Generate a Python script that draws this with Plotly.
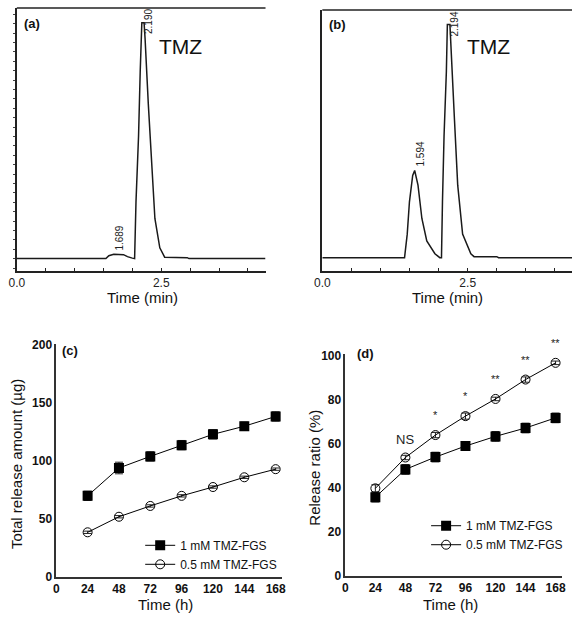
import numpy as np
import plotly.graph_objects as go

# ---------------- data ----------------
# chromatogram (a)
a_time = [0.0, 1.542, 1.593, 1.678, 1.847, 1.915, 2.0, 2.039, 2.063, 2.107, 2.136, 2.164, 2.203, 2.22, 2.276,
          2.334, 2.39, 2.475, 2.559, 2.95, 2.98, 4.305]
a_signal = [0, 0, 3, 4.5, 4, 2, 0.5, 0, 58, 125, 191, 241, 241, 225, 158, 91, 41, 11, 1.5, 1, 0, 0]
a_peak_labels = ["1.689", "2.190"]

# chromatogram (b)
b_time = [0.0, 1.414, 1.46, 1.498, 1.554, 1.588, 1.645, 1.712, 1.796, 1.936, 2.02, 2.049, 2.066, 2.093, 2.133,
          2.15, 2.194, 2.217, 2.273, 2.328, 2.412, 2.554, 2.609, 3.0, 3.03, 4.293]
b_signal = [0, 0, 24, 57, 84, 89, 74, 40, 17, 4, 0, 0, 57, 124, 190, 238, 238, 207, 140, 74, 24, 4, 1, 1, 0, 0]
b_peak_labels = ["1.594", "2.194"]

# release curves
hours = [24, 48, 72, 96, 120, 144, 168]
hour_ticks = [0, 24, 48, 72, 96, 120, 144, 168]

c_1mM = [70, 94, 104, 113.7, 123, 130, 138.4]
c_1mM_err = [4, 5, 4, 4, 4, 3.5, 4]
c_05mM = [38.6, 52, 61.3, 70, 77.6, 86, 93]
c_05mM_err = [1, 1, 1, 1, 1, 1, 1]
c_yticks = [0, 50, 100, 150, 200]

d_1mM = [35.6, 48.2, 53.8, 58.8, 63.2, 67, 71.6]
d_1mM_err = [2.2, 2.2, 2.2, 2, 2.2, 2.2, 2.2]
d_05mM = [39.6, 53.6, 63.8, 72.4, 80.2, 89, 96.6]
d_05mM_err = [1.6, 1, 1.2, 1.4, 0.8, 1.2, 0.8]
d_yticks = [0, 20, 40, 60, 80, 100]
d_signif = ["", "NS", "*", "*", "**", "**", "**"]

FONT = "Arial, Liberation Sans, sans-serif"
W, H = 576, 622


def px_x(p):
    return p / W


def px_y(p):
    return 1 - p / H


fig = go.Figure()

# chromatograms
fig.add_trace(go.Scatter(x=a_time, y=a_signal, mode="lines", line=dict(color="#1a1a1a", width=1.5),
                         xaxis="x", yaxis="y", showlegend=False, hoverinfo="skip"))
fig.add_trace(go.Scatter(x=b_time, y=b_signal, mode="lines", line=dict(color="#1a1a1a", width=1.5),
                         xaxis="x2", yaxis="y2", showlegend=False, hoverinfo="skip"))

# release (c)
fig.add_trace(go.Scatter(x=hours, y=c_1mM, mode="lines+markers", name="1 mM TMZ-FGS",
                         line=dict(color="black", width=1),
                         marker=dict(symbol="square", size=10, color="black"),
                         error_y=dict(type="data", array=c_1mM_err, color="#222", thickness=1, width=4),
                         xaxis="x3", yaxis="y3", legend="legend"))
fig.add_trace(go.Scatter(x=hours, y=c_05mM, mode="lines+markers", name="0.5 mM TMZ-FGS",
                         line=dict(color="black", width=1),
                         marker=dict(symbol="circle-open", size=9, color="black", line=dict(width=1)),
                         error_y=dict(type="data", array=c_05mM_err, color="#222", thickness=1, width=4),
                         xaxis="x3", yaxis="y3", legend="legend"))
# release (d)
fig.add_trace(go.Scatter(x=hours, y=d_1mM, mode="lines+markers", name="1 mM TMZ-FGS",
                         line=dict(color="black", width=1),
                         marker=dict(symbol="square", size=10, color="black"),
                         error_y=dict(type="data", array=d_1mM_err, color="#222", thickness=1, width=4),
                         xaxis="x4", yaxis="y4", legend="legend2"))
fig.add_trace(go.Scatter(x=hours, y=d_05mM, mode="lines+markers", name="0.5 mM TMZ-FGS",
                         line=dict(color="black", width=1),
                         marker=dict(symbol="circle-open", size=9, color="black", line=dict(width=1)),
                         error_y=dict(type="data", array=d_05mM_err, color="#222", thickness=1, width=4),
                         xaxis="x4", yaxis="y4", legend="legend2"))

annotations = []
# peak labels
for labels, t, s, xr, yr in [(a_peak_labels, a_time, a_signal, "x", "y"),
                             (b_peak_labels, b_time, b_signal, "x2", "y2")]:
    t_arr = np.array(t)
    s_arr = np.array(s)
    for lab in labels:
        lt = float(lab)
        top = s_arr[np.abs(t_arr - lt) < 0.12].max()
        small = top < 150
        annotations.append(dict(x=lt, y=top, xref=xr, yref=yr, text=lab, showarrow=False,
                                textangle=-90, xanchor="center", yanchor="middle",
                                xshift=5, yshift=16 if small else 1,
                                font=dict(family=FONT, size=10, color="#222")))

# significance marks
for h, v, sig in zip(hours, d_05mM, d_signif):
    if sig:
        annotations.append(dict(x=h, y=v, xref="x4", yref="y4", text=sig, showarrow=False,
                                xanchor="center", yanchor="middle",
                                yshift=18 if sig == "NS" else 20,
                                font=dict(family=FONT, size=13 if sig == "NS" else 11, color="#222")))


# panel labels & texts
def txt(x, y, s, size, bold=False, angle=0):
    annotations.append(dict(x=px_x(x), y=px_y(y), xref="paper", yref="paper",
                            text=f"<b>{s}</b>" if bold else s, showarrow=False,
                            xanchor="center", yanchor="middle", textangle=angle,
                            font=dict(family=FONT, size=size, color="#111")))


txt(24.5, 17.5, "(a)", 13, True)
txt(337, 19, "(b)", 13, True)
txt(63, 352, "(c)", 13, True)
txt(365.5, 355, "(d)", 13, True)
txt(176.5, 41, "TMZ", 21)
txt(491, 41, "TMZ", 21)
txt(137, 298, "Time (min)", 15)
txt(449, 298, "Time (min)", 15)
txt(161, 611, "Time (h)", 15)
txt(452, 611, "Time (h)", 15)
txt(8, 468, "Total release amount (µg)", 15, angle=-90)
txt(313, 471, "Release ratio (%)", 15, angle=-90)

shapes = [
    dict(type="line", xref="paper", yref="paper", x0=px_x(9), x1=px_x(263), y0=px_y(2), y1=px_y(2),
         line=dict(color="#222", width=1.5)),
    dict(type="line", xref="paper", yref="paper", x0=px_x(321), x1=1, y0=px_y(4), y1=px_y(4),
         line=dict(color="#222", width=1.5)),
]

chrom_x = dict(showline=True, linecolor="#222", linewidth=1.5, showgrid=False, zeroline=False,
               ticks="inside", ticklen=4, tickcolor="#222", tickvals=[0, 2.5], ticktext=["0.0", "2.5"],
               minor=dict(ticks="inside", ticklen=4, dtick=0.5, tick0=0, tickcolor="#222"),
               tickfont=dict(family=FONT, size=12, color="#222"))
rel_axis = dict(showline=True, linecolor="#333", linewidth=1.5, showgrid=False, zeroline=False,
                ticks="", tickfont=dict(family=FONT, size=12, color="#111", weight="bold"))

fig.update_layout(
    width=W, height=H, margin=dict(l=0, r=0, t=0, b=0),
    paper_bgcolor="white", plot_bgcolor="white",
    xaxis=dict(domain=[px_x(9), px_x(263)], range=[0, 4.305], anchor="y", **chrom_x),
    yaxis=dict(domain=[px_y(271), px_y(2)], range=[-13, 256], anchor="x", showline=True, linecolor="#222",
               linewidth=1.5, showgrid=False, zeroline=False, ticks="outside", ticklen=2, tick0=0, dtick=9.6,
               tickcolor="#444", showticklabels=False),
    xaxis2=dict(domain=[px_x(321), 1], range=[0, 4.293], anchor="y2", **chrom_x),
    yaxis2=dict(domain=[px_y(271), px_y(4)], range=[-14, 253], anchor="x2", showline=True, linecolor="#222",
                linewidth=1.5, showgrid=False, zeroline=False, ticks="", showticklabels=False),
    xaxis3=dict(domain=[px_x(49.3), px_x(280)], range=[0, 173], anchor="y3", tickvals=hour_ticks, **rel_axis),
    yaxis3=dict(domain=[px_y(583.3), px_y(345)], range=[0, 201], anchor="x3", tickvals=c_yticks, **rel_axis),
    xaxis4=dict(domain=[px_x(344.5), px_x(566)], range=[0, 173.3], anchor="y4", tickvals=hour_ticks, **rel_axis),
    yaxis4=dict(domain=[px_y(581.7), px_y(355)], range=[0, 100.8], anchor="x4", tickvals=d_yticks, **rel_axis),
    legend=dict(x=px_x(135), y=px_y(536), xanchor="left", yanchor="top", bgcolor="rgba(0,0,0,0)",
                font=dict(family=FONT, size=12, color="#111"), itemwidth=30, tracegroupgap=0),
    legend2=dict(x=px_x(427), y=px_y(516), xanchor="left", yanchor="top", bgcolor="rgba(0,0,0,0)",
                 font=dict(family=FONT, size=12, color="#111"), itemwidth=30, tracegroupgap=0),
    annotations=annotations, shapes=shapes,
)

fig.write_html("out.html", config={"displayModeBar": False},
               post_script="document.body.style.margin='0';document.body.style.overflow='hidden';")
